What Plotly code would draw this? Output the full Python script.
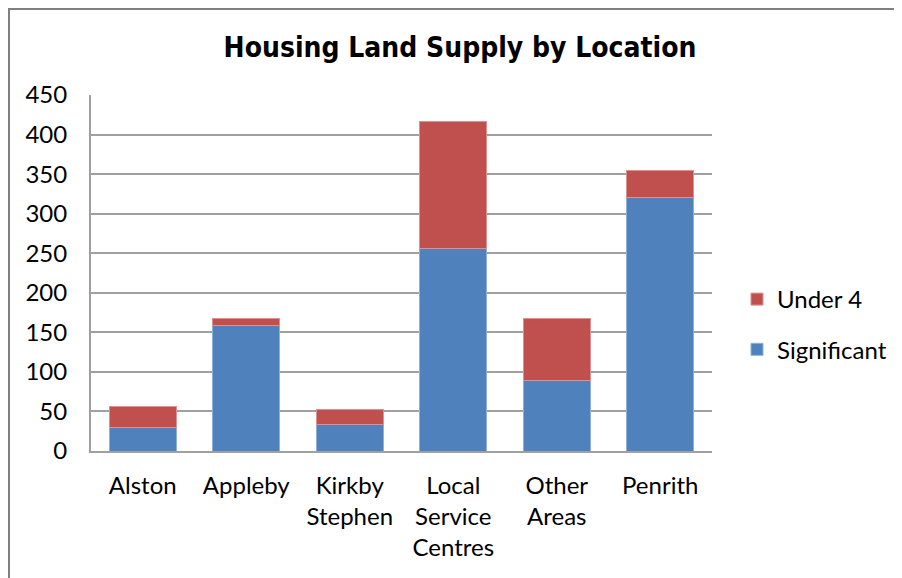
import plotly.graph_objects as go

categories = ["Alston", "Appleby", "Kirkby<br>Stephen", "Local<br>Service<br>Centres", "Other<br>Areas", "Penrith"]
significant = [30, 159, 34, 256, 89, 320]
under4 = [26, 9, 19, 161, 79, 34]
y_ticks = [0, 50, 100, 150, 200, 250, 300, 350, 400, 450]

FONT = "Lato, Carlito, Calibri, sans-serif"
TITLE_FONT = "DejaVu Sans Condensed, Roboto, sans-serif"

# page body has an 8px margin; compensate so the plot lands where the reference is
L, T = 83, 87
R = 902 - 712 + 8
B = 578 - 451 + 8
PW = 902 - L - R
PH = 578 - T - B

fig = go.Figure()
fig.add_trace(go.Bar(x=categories, y=significant, name="Significant",
                     marker=dict(color="#4F81BD", line=dict(color="#8EB0DC", width=1)),
                     legendgroup="a", legendrank=2))
fig.add_trace(go.Bar(x=categories, y=under4, name="Under 4",
                     marker=dict(color="#C0504D", line=dict(color="#E09090", width=1)),
                     legendgroup="b", legendrank=1))

fig.update_layout(
    width=902, height=578,
    barmode="stack", bargap=0.356,
    paper_bgcolor="white", plot_bgcolor="white",
    margin=dict(l=L, r=R, t=T, b=B, autoexpand=False),
    title=dict(text="<b>Housing Land Supply by Location</b>", xref="container", x=452 / 902,
               xanchor="center", yref="container", y=1 - 39 / 578, yanchor="middle",
               font=dict(family=TITLE_FONT, size=28, color="black")),
    font=dict(family=FONT, size=24, color="black"),
    legend=dict(x=(729 - L) / PW, xanchor="left", y=1 - (316.5 - T) / PH, yanchor="middle",
                traceorder="grouped", tracegroupgap=16,
                font=dict(family=FONT, size=24), bgcolor="rgba(0,0,0,0)"),
    xaxis=dict(showgrid=False, showline=True, linecolor="#A0A0A0", linewidth=2,
               ticks="outside", ticklen=12, tickcolor="rgba(0,0,0,0)",
               tickfont=dict(size=24)),
    yaxis=dict(range=[0, 450], tickvals=y_ticks, showgrid=True, gridcolor="#A0A0A0",
               gridwidth=1.5, showline=True, linecolor="#A0A0A0", linewidth=2,
               ticks="outside", ticklen=17, tickcolor="rgba(0,0,0,0)",
               tickfont=dict(size=24), zeroline=False),
    shapes=[dict(type="rect", xref="paper", yref="paper",
                 x0=-(L - 1) / PW, x1=(902 - L + 20) / PW,
                 y0=-(B + 20) / PH, y1=(T - 1) / PH + 1,
                 line=dict(color="#808080", width=2))],
)

fig.write_html("out.html")
